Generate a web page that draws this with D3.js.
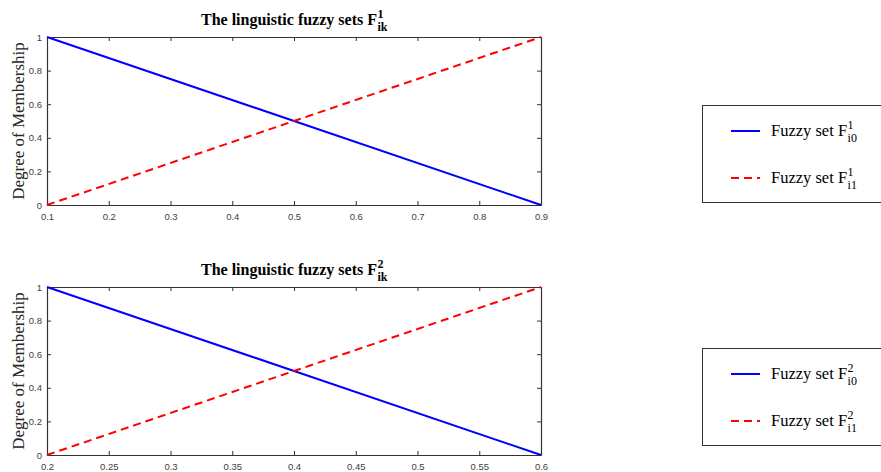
<!DOCTYPE html>
<html>
<head>
<meta charset="utf-8">
<script src="https://cdn.jsdelivr.net/npm/d3@7"></script>
<style>
  body { margin: 0; background: #fff; }
  svg { display: block; }
</style>
</head>
<body>
<div id="chart"></div>
<script>
// data
var yTicks = [0, 0.2, 0.4, 0.6, 0.8, 1];
var yTickLabels = ['0', '0.2', '0.4', '0.6', '0.8', '1'];

var x1 = [0.1, 0.9];
var f10 = [1, 0];
var f11 = [0, 1];
var xTicks1 = [0.1, 0.2, 0.3, 0.4, 0.5, 0.6, 0.7, 0.8, 0.9];
var xTickLabels1 = ['0.1', '0.2', '0.3', '0.4', '0.5', '0.6', '0.7', '0.8', '0.9'];

var x2 = [0.2, 0.6];
var f20 = [1, 0];
var f21 = [0, 1];
var xTicks2 = [0.2, 0.25, 0.3, 0.35, 0.4, 0.45, 0.5, 0.55, 0.6];
var xTickLabels2 = ['0.2', '0.25', '0.3', '0.35', '0.4', '0.45', '0.5', '0.55', '0.6'];

var W = 881, H = 472;
var axisColor = '#333';
var serif = "'Liberation Serif', 'Times New Roman', serif";
var sans = "'Liberation Sans', Arial, sans-serif";

var svg = d3.select('#chart').append('svg')
  .attr('width', W)
  .attr('height', H);

// text with stacked superscript and subscript
function scriptText(g, x, y, main, sup, sub, size, small, weight, anchor) {
  var t = g.append('text')
    .attr('y', y)
    .style('font-family', serif)
    .style('font-size', size + 'px')
    .style('font-weight', weight)
    .attr('fill', '#000')
    .text(main);
  var w = t.node().getComputedTextLength();
  var s1 = g.append('text')
    .attr('y', y - size * 0.45)
    .style('font-family', serif)
    .style('font-size', small + 'px')
    .style('font-weight', weight)
    .attr('fill', '#000')
    .text(sup);
  var s2 = g.append('text')
    .attr('y', y + size * 0.38)
    .style('font-family', serif)
    .style('font-size', small + 'px')
    .style('font-weight', weight)
    .attr('fill', '#000')
    .text(sub);
  var extra = Math.max(s1.node().getComputedTextLength(), s2.node().getComputedTextLength());
  var x0 = anchor == 'middle' ? x - (w + extra) / 2 : x;
  t.attr('x', x0);
  s1.attr('x', x0 + w + 0.5);
  s2.attr('x', x0 + w + 0.5);
}

function panel(top, xs, s0, s1, xTicks, xLabels, sup, legendTop) {
  var left = 47, right = 541, bottom = top + 168;

  var xScale = d3.scaleLinear().domain(d3.extent(xs)).range([left, right]);
  var yScale = d3.scaleLinear().domain([0, 1]).range([bottom, top]);

  var g = svg.append('g');

  // axes with inward ticks on all four sides
  var xb = g.append('g').attr('transform', 'translate(0,' + bottom + ')')
    .call(d3.axisBottom(xScale).tickValues(xTicks).tickSizeInner(-4).tickSizeOuter(0).tickPadding(7)
      .tickFormat(function(d, i) { return xLabels[i]; }));
  var xt = g.append('g').attr('transform', 'translate(0,' + top + ')')
    .call(d3.axisTop(xScale).tickValues(xTicks).tickSizeInner(-4).tickSizeOuter(0).tickFormat(''));
  var yl = g.append('g').attr('transform', 'translate(' + left + ',0)')
    .call(d3.axisLeft(yScale).tickValues(yTicks).tickSizeInner(-4).tickSizeOuter(0).tickPadding(9)
      .tickFormat(function(d, i) { return yTickLabels[i]; }));
  var yr = g.append('g').attr('transform', 'translate(' + right + ',0)')
    .call(d3.axisRight(yScale).tickValues(yTicks).tickSizeInner(-4).tickSizeOuter(0).tickFormat(''));

  [xb, xt, yl, yr].forEach(function(a) {
    a.selectAll('.domain').attr('stroke', axisColor).attr('stroke-width', 1.2);
    a.selectAll('.tick line').attr('stroke', axisColor).attr('stroke-width', 1);
    a.selectAll('.tick text')
      .style('font-family', sans)
      .style('font-size', '9.5px')
      .attr('fill', '#404040');
  });
  xb.selectAll('.tick text').attr('dy', '0.85em');
  yl.selectAll('.tick text').attr('dx', '4px');

  var line = d3.line()
    .x(function(d) { return xScale(d[0]); })
    .y(function(d) { return yScale(d[1]); });

  g.append('path')
    .datum(d3.zip(xs, s0))
    .attr('d', line)
    .attr('fill', 'none')
    .attr('stroke', '#0000ff')
    .attr('stroke-width', 2);

  g.append('path')
    .datum(d3.zip(xs, s1))
    .attr('d', line)
    .attr('fill', 'none')
    .attr('stroke', '#ff0000')
    .attr('stroke-width', 2)
    .attr('stroke-dasharray', '8,5');

  // y label
  g.append('text')
    .attr('transform', 'translate(24,' + ((top + bottom) / 2) + ') rotate(-90)')
    .attr('text-anchor', 'middle')
    .style('font-family', serif)
    .style('font-size', '17px')
    .attr('fill', '#262626')
    .text('Degree of Membership');

  // title
  scriptText(g, (left + right) / 2, top - 12, 'The linguistic fuzzy sets F', sup, 'ik', 16, 12, 'bold', 'middle');

  // legend
  var lg = g.append('g');
  lg.append('rect')
    .attr('x', 702.5).attr('y', legendTop + 0.5)
    .attr('width', 200).attr('height', 97)
    .attr('fill', '#fff')
    .attr('stroke', axisColor)
    .attr('stroke-width', 1);

  var rows = [
    { y: legendTop + 26, color: '#0000ff', dash: null, sub: 'i0' },
    { y: legendTop + 73, color: '#ff0000', dash: '8,5', sub: 'i1' }
  ];
  rows.forEach(function(r) {
    lg.append('line')
      .attr('x1', 731).attr('x2', 760)
      .attr('y1', r.y).attr('y2', r.y)
      .attr('stroke', r.color)
      .attr('stroke-width', 2)
      .attr('stroke-dasharray', r.dash);
    scriptText(lg, 771, r.y + 5, 'Fuzzy set F', sup, r.sub, 16.5, 12, 'normal', 'start');
  });
}

panel(37, x1, f10, f11, xTicks1, xTickLabels1, '1', 105);
panel(287, x2, f20, f21, xTicks2, xTickLabels2, '2', 348);
</script>
</body>
</html>
